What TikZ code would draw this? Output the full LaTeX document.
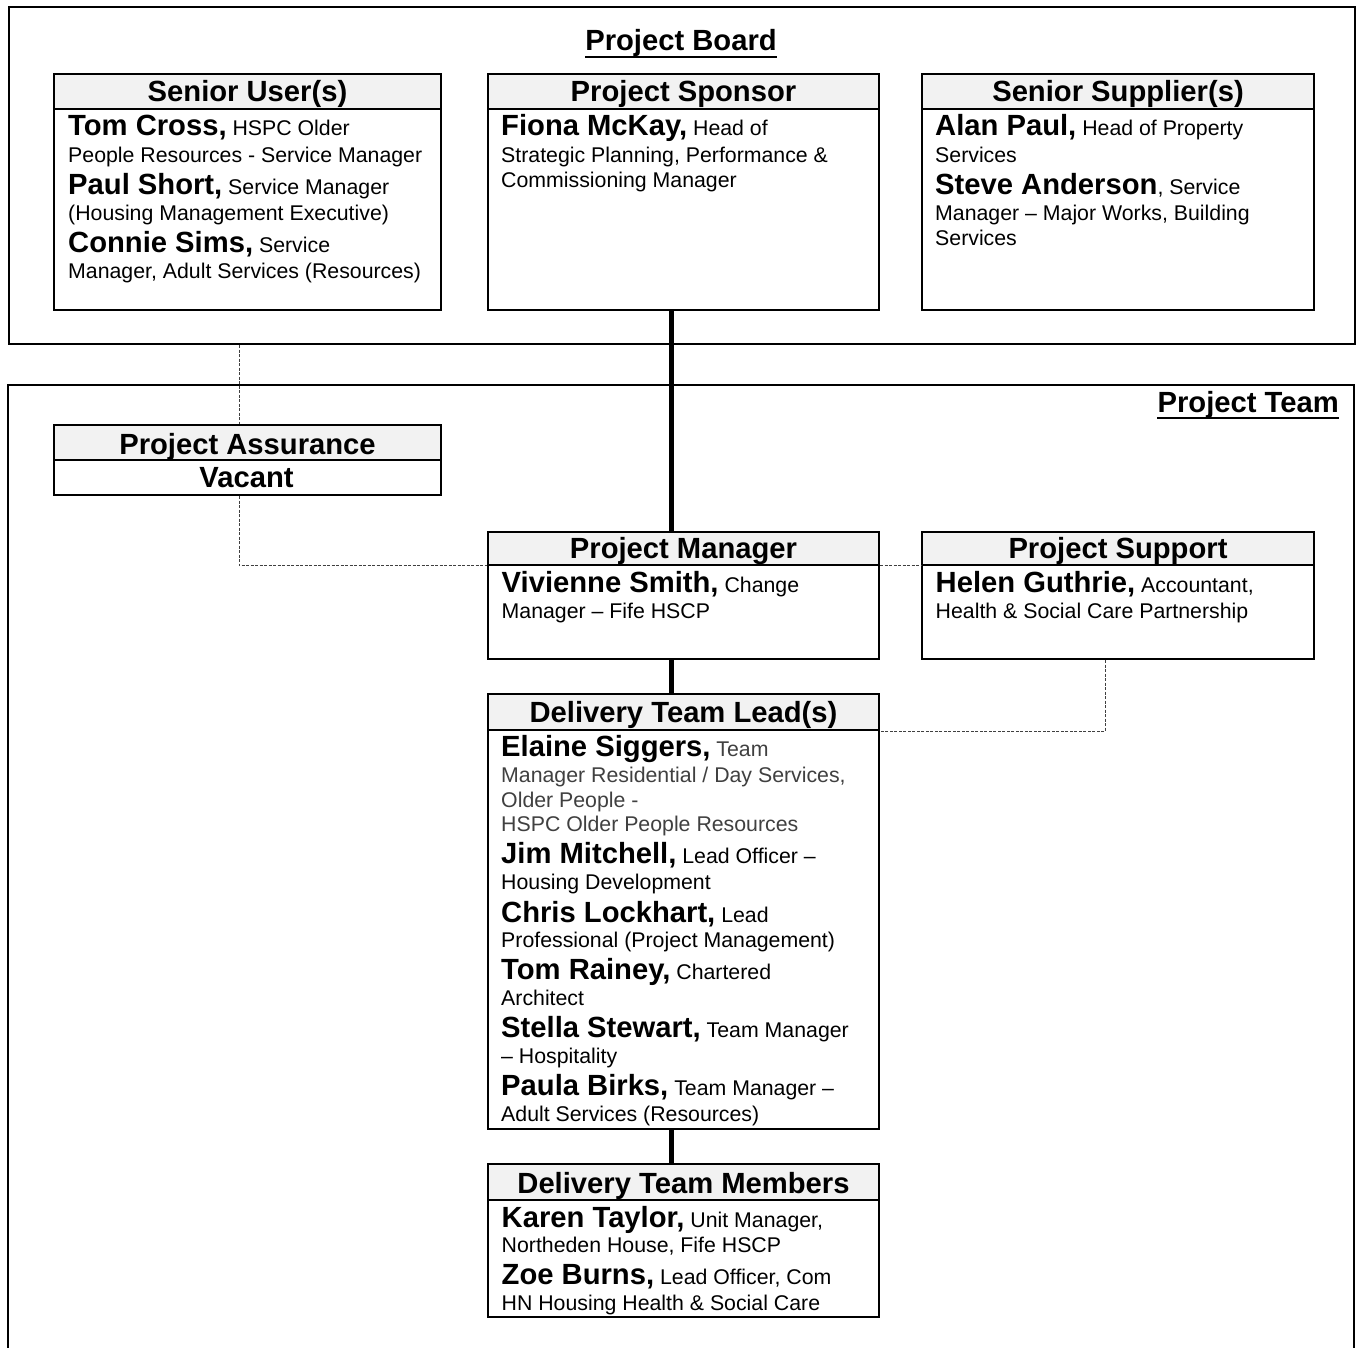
\documentclass[tikz,border=0pt]{standalone}
\usepackage{fontspec}
\setmainfont{Liberation Sans}
\definecolor{bandgray}{HTML}{F2F2F2}
\newcommand\bodyf{\fontsize{21.3}{25}\selectfont}
\newcommand\namef{\fontsize{29.2}{32}\selectfont\bfseries}
\newcommand\nm[1]{{\namef #1}}
\newcommand\txtline[4]{\node[tline] (#1) at (#2,#3) {#4};}
\begin{document}
\begin{tikzpicture}[x=1pt,y=-1pt,
  frame/.style={draw, line width=2pt, inner sep=0pt, anchor=north west},
  box/.style={draw, line width=2pt, fill=white, inner sep=0pt, anchor=north west},
  band/.style={draw, line width=2pt, fill=bandgray, inner sep=0pt, anchor=north west, font=\namef},
  tline/.style={anchor=base west, inner sep=0pt, font=\bodyf},
  trunkline/.style={line width=5pt},
  link/.style={line width=1pt, black!75, dash pattern=on 3pt off 1.5pt},
  title/.style={anchor=base, inner sep=0pt, font=\namef}]
\useasboundingbox[fill=white] (0,0) rectangle (1359,1347);

% frames
\node[frame, minimum width=1346pt, minimum height=337pt] (board) at (8,6) {};
\draw[line width=2pt] (8,1350) -- (8,385) -- (1354,385) -- (1354,1350);

% titles
\node[title] (pbt) at (681,50) {Project Board};
\draw[line width=2pt] ([yshift=-6.5pt]pbt.base west) -- ([yshift=-6.5pt]pbt.base east);
\node[title, anchor=base east] (ptt) at (1339,412) {Project Team};
\draw[line width=2pt] ([yshift=-6pt]ptt.base west) -- ([yshift=-6pt]ptt.base east);

% Senior User(s)
\node[box, minimum width=387pt, minimum height=236pt] (su) at (53,73) {};
\node[band, minimum width=387pt, minimum height=35pt, text height=27pt, text depth=8pt] (suh) at (53,73) {Senior User(s)};
\txtline{su1}{68}{135}{\nm{Tom Cross,} HSPC Older}
\txtline{su2}{68}{162}{People Resources - Service Manager}
\txtline{su3}{68}{194}{\nm{Paul Short,} Service Manager}
\txtline{su4}{68}{220}{(Housing Management Executive)}
\txtline{su5}{68}{252}{\nm{Connie Sims,} Service}
\txtline{su6}{68}{278}{Manager, Adult Services (Resources)}

% Project Sponsor
\node[box, minimum width=391pt, minimum height=236pt] (sp) at (487,73) {};
\node[band, minimum width=391pt, minimum height=35pt, text height=27pt, text depth=8pt] (sph) at (487,73) {Project Sponsor};
\txtline{sp1}{501}{135}{\nm{Fiona McKay,} Head of}
\txtline{sp2}{501}{162}{Strategic Planning, Performance \&}
\txtline{sp3}{501}{187}{Commissioning Manager}

% Senior Supplier(s)
\node[box, minimum width=392pt, minimum height=236pt] (ss) at (921,73) {};
\node[band, minimum width=392pt, minimum height=35pt, text height=27pt, text depth=8pt] (ssh) at (921,73) {Senior Supplier(s)};
\txtline{ss1}{935}{135}{\nm{Alan Paul,} Head of Property}
\txtline{ss2}{935}{162}{Services}
\txtline{ss3}{935}{194}{\nm{Steve Anderson}, Service}
\txtline{ss4}{935}{220}{Manager – Major Works, Building}
\txtline{ss5}{935}{245}{Services}

% Project Assurance
\node[box, minimum width=387pt, minimum height=70pt] (pa) at (53,424) {};
\node[band, minimum width=387pt, minimum height=35pt, text height=29pt, text depth=6pt] (pah) at (53,424) {Project Assurance};
\node[title] (pav) at (246.5,487) {Vacant};

% Project Manager
\node[box, minimum width=391pt, minimum height=127pt] (pm) at (487,531) {};
\node[band, minimum width=391pt, minimum height=32.5pt, text height=26pt, text depth=6.5pt] (pmh) at (487,531) {Project Manager};
\txtline{pm1}{501.5}{592}{\nm{Vivienne Smith,} Change}
\txtline{pm2}{501.5}{618}{Manager – Fife HSCP}

% Project Support
\node[box, minimum width=392pt, minimum height=127pt] (ps) at (921,531) {};
\node[band, minimum width=392pt, minimum height=32.5pt, text height=26pt, text depth=6.5pt] (psh) at (921,531) {Project Support};
\txtline{ps1}{935.5}{592}{\nm{Helen Guthrie,} Accountant,}
\txtline{ps2}{935.5}{618}{Health \& Social Care Partnership}

% Delivery Team Lead(s)
\node[box, minimum width=391pt, minimum height=435pt] (dtl) at (487,693) {};
\node[band, minimum width=391pt, minimum height=36pt, text height=28.7pt, text depth=7.3pt] (dtlh) at (487,693) {Delivery Team Lead(s)};
\txtline{dl1}{501}{756}{\nm{Elaine Siggers,} {\color{black!75}Team}}
\txtline{dl2}{501}{782}{\color{black!75}Manager Residential / Day Services,}
\txtline{dl3}{501}{807}{\color{black!75}Older People -}
\txtline{dl4}{501}{831}{\color{black!75}HSPC Older People Resources}
\txtline{dl5}{501}{863}{\nm{Jim Mitchell,} Lead Officer –}
\txtline{dl6}{501}{889}{Housing Development}
\txtline{dl7}{501}{922}{\nm{Chris Lockhart,} Lead}
\txtline{dl8}{501}{947}{Professional (Project Management)}
\txtline{dl9}{501}{979}{\nm{Tom Rainey,} Chartered}
\txtline{dl10}{501}{1005}{Architect}
\txtline{dl11}{501}{1037}{\nm{Stella Stewart,} Team Manager}
\txtline{dl12}{501}{1063}{– Hospitality}
\txtline{dl13}{501}{1095}{\nm{Paula Birks,} Team Manager –}
\txtline{dl14}{501}{1121}{Adult Services (Resources)}

% Delivery Team Members
\node[box, minimum width=391pt, minimum height=153pt] (dtm) at (487,1163) {};
\node[band, minimum width=391pt, minimum height=36pt, text height=29pt, text depth=7pt] (dtmh) at (487,1163) {Delivery Team Members};
\txtline{dm1}{501.5}{1227}{\nm{Karen Taylor,} Unit Manager,}
\txtline{dm2}{501.5}{1252}{Northeden House, Fife HSCP}
\txtline{dm3}{501.5}{1284}{\nm{Zoe Burns,} Lead Officer, Com}
\txtline{dm4}{501.5}{1310}{HN Housing Health \& Social Care}

% connectors
\coordinate (trunk) at (671,0);
\coordinate (dashA) at (239,0);
\coordinate (dashB) at (1105,0);
\draw[trunkline] (trunk |- sp.south) -- (trunk |- pm.north);
\draw[trunkline] (trunk |- pm.south) -- (trunk |- dtl.north);
\draw[trunkline] (trunk |- dtl.south) -- (trunk |- dtm.north);
\draw[link] (dashA |- board.south) -- (dashA |- pa.north);
\draw[link] (dashA |- pa.south) -- (dashA |- pmh.south) -- (pmh.south west);
\draw[link] (pmh.south east) -- (psh.south west);
\draw[link] (dashB |- ps.south) -- (dashB |- dtlh.south) -- (dtlh.south east);
\end{tikzpicture}
\end{document}
